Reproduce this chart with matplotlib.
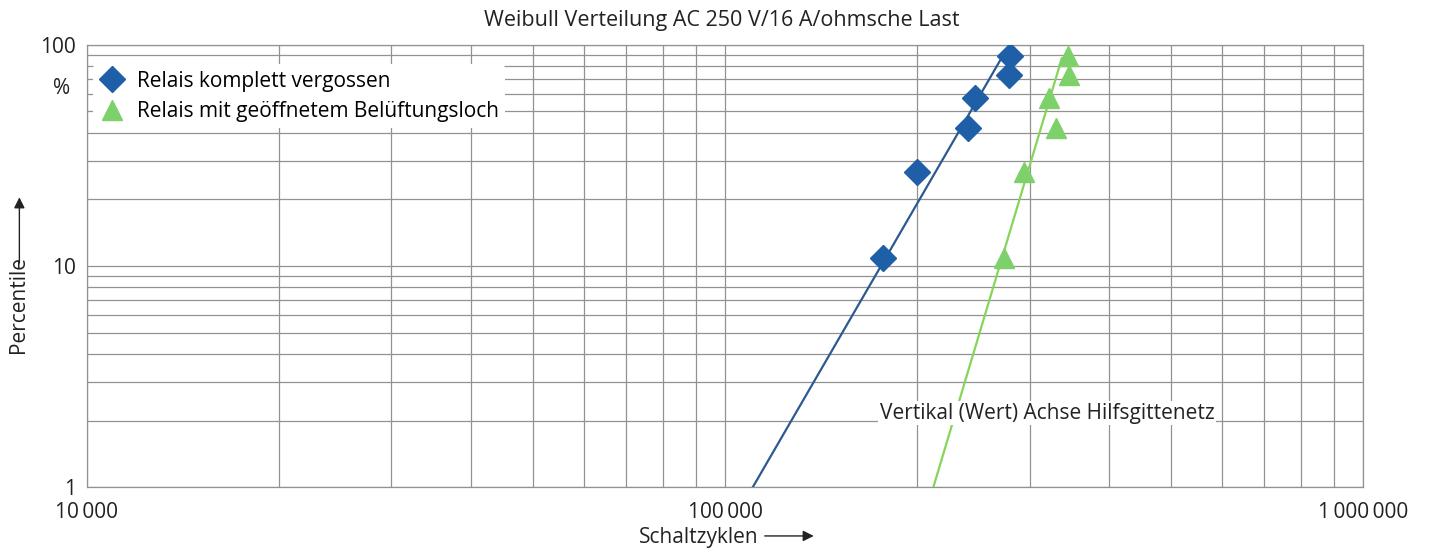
"""Weibull Verteilung, Relais-Schaltzyklen."""
import matplotlib
matplotlib.use('Agg')
import matplotlib.pyplot as plt
from matplotlib.ticker import FixedLocator, LogLocator, FuncFormatter, NullFormatter

plt.rcParams['font.family'] = ['Open Sans', 'DejaVu Sans']

# Daten
vergossen_zyklen = [177_000, 200_000, 240_000, 246_000, 279_000, 280_000]
vergossen_prozent = [10.9, 26.6, 42.2, 57.8, 73.4, 89.1]
beluftet_zyklen = [274_000, 294_000, 330_000, 322_000, 346_000, 345_000]
beluftet_prozent = [10.9, 26.6, 42.2, 57.8, 73.4, 89.1]

vergossen_trend_x = [110_500, 274_000]
vergossen_trend_y = [1, 92]
beluftet_trend_x = [212_000, 337_000]
beluftet_trend_y = [1, 87]

y_ticks = [1, 10, 100]
x_ticks = [10_000, 100_000, 1_000_000]

blue = '#1f5fa8'
blue_line = '#2d5990'
green = '#7ed06a'
green_line = '#86d458'
grid_col = '#929292'
txt = '#222222'

fig = plt.figure(figsize=(14.35, 5.48), dpi=100)
ax = fig.add_axes([0.0606, 0.111, 0.8894, 0.807])

ax.set_xscale('log')
ax.set_yscale('log')
ax.set_xlim(10_000, 1_000_000)
ax.set_ylim(1, 100)

ax.plot(vergossen_trend_x, vergossen_trend_y, color=blue_line, lw=1.6, zorder=3)
ax.plot(beluftet_trend_x, beluftet_trend_y, color=green_line, lw=1.6, zorder=3)
ax.plot(vergossen_zyklen, vergossen_prozent, 'D', color=blue, ms=13,
        mec=blue, zorder=4, label='Relais komplett vergossen')
ax.plot(beluftet_zyklen, beluftet_prozent, '^', color=green, ms=15,
        mec=green, zorder=4, label='Relais mit geöffnetem Belüftungsloch')

ax.yaxis.set_major_locator(FixedLocator(y_ticks))
ax.yaxis.set_minor_locator(LogLocator(base=10, subs=range(2, 10)))
ax.xaxis.set_major_locator(FixedLocator(x_ticks))
ax.xaxis.set_minor_locator(LogLocator(base=10, subs=range(2, 10)))
ax.yaxis.set_major_formatter(FuncFormatter(lambda v, p: f'{v:g}'))
ax.xaxis.set_major_formatter(
    FuncFormatter(lambda v, p: f'{int(v):,}'.replace(',', '\u2009')))
ax.xaxis.set_minor_formatter(NullFormatter())
ax.yaxis.set_minor_formatter(NullFormatter())

ax.grid(True, which='both', color=grid_col, lw=0.9)
ax.set_axisbelow(True)
for s in ax.spines.values():
    s.set_color(grid_col)
    s.set_linewidth(0.9)
ax.tick_params(which='both', length=0, labelsize=15, colors=txt)
ax.tick_params(axis='y', pad=8)
ax.tick_params(axis='x', pad=11)

leg = ax.legend(loc='upper left', bbox_to_anchor=(0.0, 0.97), frameon=True,
                fontsize=15, handletextpad=0.6, borderpad=0.3,
                labelspacing=0.45, handlelength=1.2, borderaxespad=0.3)
leg.get_frame().set_edgecolor('none')
leg.get_frame().set_facecolor('white')
leg.get_frame().set_alpha(1)

ax.text(0.621, 0.167, 'Vertikal (Wert) Achse Hilfsgittenetz', transform=ax.transAxes,
        fontsize=15, color=txt, va='center', ha='left',
        bbox=dict(facecolor='white', edgecolor='none', pad=1))

fig.text(0.503, 0.963, 'Weibull Verteilung AC 250 V/16 A/ohmsche Last',
         ha='center', va='center', fontsize=15.5, color=txt)
fig.text(0.043, 0.838, '%', ha='center', va='center', fontsize=15, color=txt)

# Achsentitel mit Pfeilen
fig.text(0.013, 0.445, 'Percentile', rotation=90, ha='center', va='center',
         fontsize=15, color=txt)
fig.patches.append(matplotlib.patches.FancyArrowPatch(
    (0.0135, 0.515), (0.0135, 0.645), transform=fig.transFigure,
    arrowstyle='-|>', mutation_scale=16, color=txt, lw=1))
fig.text(0.487, 0.02, 'Schaltzyklen', ha='center', va='center',
         fontsize=15, color=txt)
fig.patches.append(matplotlib.patches.FancyArrowPatch(
    (0.531, 0.022), (0.569, 0.022), transform=fig.transFigure,
    arrowstyle='-|>', mutation_scale=16, color=txt, lw=1))

fig.savefig('out.png', dpi=100)
